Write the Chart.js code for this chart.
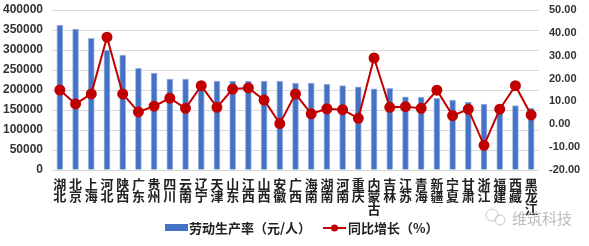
<!DOCTYPE html>
<html>
<head>
<meta charset="utf-8">
<script src="https://cdn.jsdelivr.net/npm/chart.js@4.4.1/dist/chart.umd.min.js"></script>
<style>
  body { margin: 0; background: #fff; }
  #wrap { width: 589px; height: 246px; position: relative; }
</style>
</head>
<body>
<div id="wrap"><canvas id="chart" width="589" height="246"></canvas></div>
<script>
var provinces = ['湖北', '北京', '上海', '河北', '陕西', '广东', '贵州', '四川', '云南', '辽宁',
	'天津', '山东', '江西', '山西', '安徽', '广西', '海南', '湖南', '河南', '重庆',
	'内蒙古', '吉林', '江苏', '青海', '新疆', '宁夏', '甘肃', '浙江', '福建', '西藏', '黑龙江'];

var productivity = [362500, 352000, 329000, 300000, 287000, 254000, 242000, 227000, 227000, 222500,
	222500, 222500, 222500, 222500, 222500, 217500, 217500, 215000, 211000, 208000,
	203000, 204000, 183000, 182000, 179000, 175000, 170000, 165000, 163000, 161000, 155000];

var growth = [15.0, 8.9, 13.3, 38.1, 13.3, 5.4, 7.9, 11.4, 7.0, 16.9,
	7.4, 15.4, 15.9, 10.6, 0.3, 13.3, 4.6, 6.8, 6.4, 2.6,
	29.0, 7.4, 7.7, 7.0, 14.9, 3.8, 6.6, -9.2, 6.6, 16.9, 4.1];

var leftTicks = { min: 0, max: 400000, step: 50000 };
var rightTicks = { min: -20, max: 50, step: 10 };

var seriesNames = ['劳动生产率（元/人）', '同比增长（%）'];

var barColor = '#4472C4';
var lineColor = '#C00000';
var cjkFont = '"Noto Sans CJK SC", sans-serif';
var numFont = '"Liberation Sans", Arial, sans-serif';

// legend + watermark drawn by hand so the line item shows a line with a dot
var extrasPlugin = {
	id: 'extras',
	afterDraw: (chart) => {
		var ctx = chart.ctx;
		ctx.save();
		var y = 228;
		ctx.font = 'bold 13px ' + cjkFont;
		ctx.textBaseline = 'middle';
		ctx.fillStyle = barColor;
		ctx.fillRect(165, y - 4, 23, 7);
		ctx.fillStyle = '#222';
		ctx.fillText(seriesNames[0], 189, y);

		ctx.strokeStyle = lineColor;
		ctx.lineWidth = 2;
		ctx.beginPath();
		ctx.moveTo(323, y);
		ctx.lineTo(346, y);
		ctx.stroke();
		ctx.fillStyle = lineColor;
		ctx.beginPath();
		ctx.arc(334.5, y, 3.5, 0, Math.PI * 2);
		ctx.fill();
		ctx.fillStyle = '#222';
		ctx.fillText(seriesNames[1], 348, y);

		// watermark
		ctx.strokeStyle = '#c8c8c8';
		ctx.lineWidth = 1;
		ctx.beginPath();
		ctx.arc(492, 215, 6, 0, Math.PI * 2);
		ctx.stroke();
		ctx.beginPath();
		ctx.arc(500, 220, 5, 0, Math.PI * 2);
		ctx.stroke();
		ctx.fillStyle = '#bdbdbd';
		ctx.font = '15px ' + cjkFont;
		ctx.fillText('维筑科技', 512, 218);
		ctx.restore();
	}
};

var fitY = (width) => (s) => {
	s.width = width;
	s.paddingTop = 10;
	s.paddingBottom = 0;
};

var config = {
	data: {
		labels: provinces.map(p => p.split('')),
		datasets: [
			{
				type: 'bar',
				label: seriesNames[0],
				data: productivity,
				backgroundColor: barColor,
				borderColor: '#9db4e2',
				borderWidth: 1,
				barThickness: 6,
				yAxisID: 'y',
				order: 1
			},
			{
				type: 'line',
				label: seriesNames[1],
				data: growth,
				borderColor: lineColor,
				backgroundColor: lineColor,
				borderWidth: 2,
				pointRadius: 4.5,
				pointBackgroundColor: lineColor,
				pointBorderColor: lineColor,
				tension: 0,
				yAxisID: 'y1',
				order: 0
			}
		]
	},
	options: {
		responsive: false,
		animation: false,
		layout: { padding: 0 },
		plugins: {
			legend: { display: false },
			tooltip: { enabled: false }
		},
		scales: {
			x: {
				grid: { display: false },
				border: { display: false },
				ticks: {
					autoSkip: false,
					maxRotation: 0,
					padding: 0,
					color: '#222',
					font: { family: cjkFont, size: 13, weight: 'bold', lineHeight: 0.95 }
				},
				afterFit: (s) => { s.height = 76; }
			},
			y: {
				position: 'left',
				min: leftTicks.min,
				max: leftTicks.max,
				grid: { color: '#d9d9d9', lineWidth: 1, drawTicks: false },
				border: { display: false },
				ticks: {
					stepSize: leftTicks.step,
					padding: 9,
					color: '#333',
					font: { family: numFont, size: 12, weight: 'bold' },
					callback: (v) => String(v)
				},
				afterFit: fitY(52)
			},
			y1: {
				position: 'right',
				min: rightTicks.min,
				max: rightTicks.max,
				grid: { display: false, drawTicks: false },
				border: { display: false },
				ticks: {
					stepSize: rightTicks.step,
					padding: 10,
					color: '#333',
					font: { family: numFont, size: 11, weight: 'bold' },
					callback: (v) => v.toFixed(2)
				},
				afterFit: fitY(50)
			}
		}
	},
	plugins: [extrasPlugin]
};

new Chart(document.getElementById('chart').getContext('2d'), config);
</script>
</body>
</html>
